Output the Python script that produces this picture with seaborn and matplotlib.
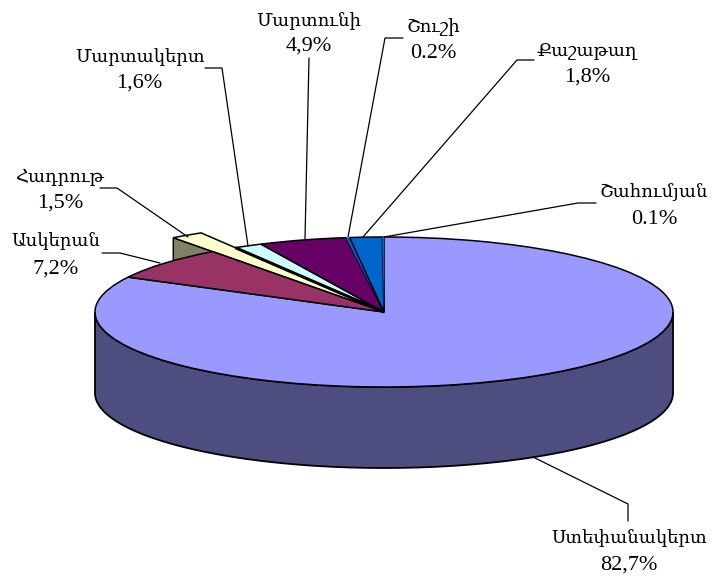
import numpy as np
import matplotlib
matplotlib.use("Agg")
import matplotlib.pyplot as plt
from matplotlib.colors import to_rgb
import seaborn as sns

names = ["Ստեփանակերտ", "Ասկերան", "Հադրութ", "Մարտակերտ", "Մարտունի", "Շուշի", "Քաշաթաղ", "Շահումյան"]
values = [82.7, 7.2, 1.5, 1.6, 4.9, 0.2, 1.8, 0.1]
value_labels = ["82,7%", "7,2%", "1,5%", "1,6%", "4,9%", "0.2%", "1,8%", "0.1%"]
slice_colors = ["#9999FF", "#993366", "#FFFFCC", "#CCFFFF", "#660066", "#0066CC", "#0066CC", "#0066CC"]

# layout, in reference pixels
W, H = 713, 581
CX, CY, RX, RY, DEPTH = 384, 312, 289, 75, 81
EXPLODED_R = 1.23
label_pos = [(629, 538, 565), (56, 241, 269), (60, 178, 203), (139.5, 57, 83),
             (309, 21, 46), (433, 27, 53), (587, 51, 77), (654, 192, 219)]
leaders = [[(628, 521), (628, 504), (533, 457)],
           [(102, 253), (120, 253), (160, 263)],
           [(100, 188), (117, 188), (188, 237)],
           [(205, 68), (222, 68), (248, 246)],
           [(309, 58), (305, 239)],
           [(403, 38), (385, 38), (348, 237)],
           [(534, 60), (517, 60), (363, 237)],
           [(596, 203), (578, 203), (384, 237)]]

sns.set_theme(style="white")
plt.rcParams["font.family"] = ["Liberation Serif", "DejaVu Serif"]
palette = sns.color_palette(slice_colors)

fig = plt.figure(figsize=(W / 100, H / 100), dpi=100, facecolor="white")
ax = fig.add_axes([0, 0, 1, 1])
wedges, _ = ax.pie(values, colors=palette, startangle=90, counterclock=False,
                   wedgeprops=dict(edgecolor="black", linewidth=1.1, zorder=3))
ax.set_aspect("auto")
ax.set_xlim(-CX / RX, (W - CX) / RX)
ax.set_ylim(-(H - CY) / RY, CY / RY)
depth = DEPTH / RY

# the two thinnest slices show only as their dark outline
for i in (5, 7):
    wedges[i].set_linewidth(0)

# side wall of the largest slice: its rim in the lower half of the ellipse
main = wedges[0]
t = np.radians(np.linspace(max(main.theta1, -180), min(main.theta2, 0), 200))
xs, ys = np.cos(t), np.sin(t)
wall = tuple(c * 0.5 for c in to_rgb(palette[0]))
ax.fill(np.r_[xs, xs[::-1]], np.r_[ys, ys[::-1] - depth], facecolor=wall,
        edgecolor="black", linewidth=1.3, zorder=2)

# pulled-out slice: longer radius, with a shaded cut face behind the others
hadrut = wedges[2]
hadrut.set_radius(EXPLODED_R)
hadrut.set_zorder(2.5)
a = np.radians(hadrut.theta2)
fx, fy = EXPLODED_R * np.cos(a), EXPLODED_R * np.sin(a)
face = tuple(c * 0.5 for c in to_rgb(palette[2]))
ax.fill([0, fx, fx, 0], [0, fy, fy - depth, -depth], facecolor=face,
        edgecolor="black", linewidth=1.0, zorder=1.5)
b = np.radians(hadrut.theta1)
ax.plot([0, np.cos(b)], [0, np.sin(b)], color="black", lw=2.2, zorder=4, solid_capstyle="butt")

# overlay in pixel units for labels and leaders
ov = fig.add_axes([0, 0, 1, 1])
ov.set_xlim(0, W)
ov.set_ylim(H, 0)
ov.axis("off")
ov.patch.set_alpha(0)
for name, val, (x, y1, y2), line in zip(names, value_labels, label_pos, leaders):
    ov.text(x, y1, name, ha="center", va="center", fontsize=13, color="black")
    ov.text(x, y2, val, ha="center", va="center", fontsize=16, color="black")
    lx, ly = zip(*line)
    ov.plot(lx, ly, color="black", lw=0.9, solid_joinstyle="miter")

fig.savefig("out.png", dpi=100)
